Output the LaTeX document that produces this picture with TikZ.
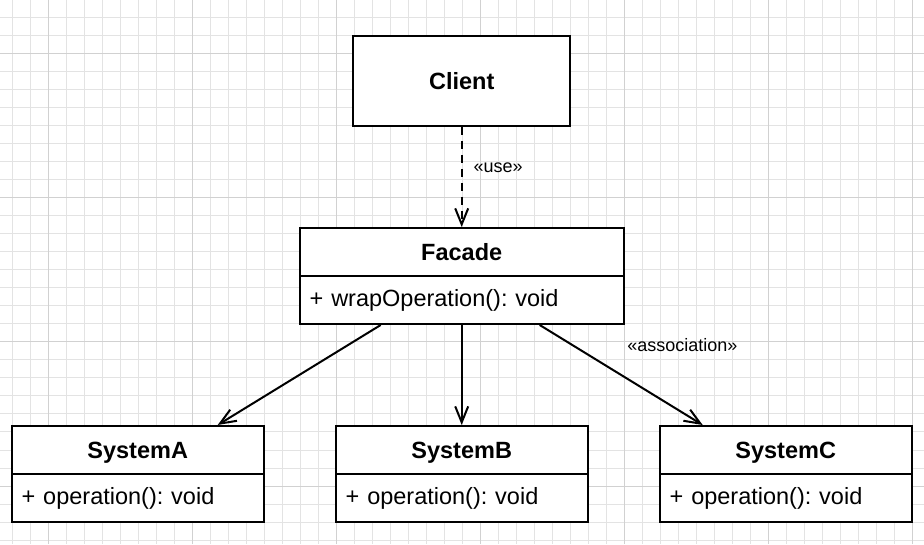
\documentclass[tikz,border=0pt]{standalone}
\usepackage{fontspec}
\setmainfont{Liberation Sans}
\usetikzlibrary{arrows.meta,positioning}
\frenchspacing

\begin{document}
\begin{tikzpicture}[
    x=1pt, y=1pt,
    node distance=100pt and 70pt,
    cls/.style={draw, line width=2pt, fill=white, minimum height=48pt, minimum width=252pt,
                inner sep=0pt, text depth=0pt, font=\fontsize{23.5}{28}\selectfont\bfseries},
    ops/.style={draw, line width=2pt, fill=white, minimum height=48pt, text width=232pt,
                inner xsep=10pt, inner ysep=0pt, align=left, font=\fontsize{23.5}{28}\selectfont},
    arr/.style={-{Straight Barb[length=16pt, width=13pt]}, line width=2pt},
    usearr/.style={arr, dash pattern=on 8pt off 6pt},
    lbl/.style={font=\fontsize{18}{22}\selectfont, inner sep=0pt},
    minor/.style={draw=black!11, line width=1pt},
    major/.style={draw=black!18, line width=1pt},
  ]
  \useasboundingbox (0,0) rectangle (924,544);

  % ===== background grid =====
  \foreach \k in {0,...,30} \draw[minor] (0,{544-18*\k}) -- (924,{544-18*\k});
  \foreach \k in {0,...,50} \draw[minor] ({12.67+18*\k},0) -- ({12.67+18*\k},544);
  \foreach \k in {0,...,3}  \draw[major] (0,{490-144*\k}) -- (924,{490-144*\k});
  \foreach \k in {0,...,6}  \draw[major] ({48.67+144*\k},0) -- ({48.67+144*\k},544);

  % ===== classes =====
  \node[cls, minimum width=216.7pt, minimum height=90pt] (client) at (461.7,463) {Client};
  \node[cls, minimum width=324pt, below=of client] (facade) {Facade};
  \node[ops, text width=304pt, below=-2pt of facade] (facadeops) {+ wrapOperation(): void};

  \node[cls, below=of facadeops] (sysB) {SystemB};
  \node[ops, below=-2pt of sysB] (sysBops) {+ operation(): void};
  \node[cls, left=of sysB] (sysA) {SystemA};
  \node[ops, below=-2pt of sysA] (sysAops) {+ operation(): void};
  \node[cls, right=of sysB] (sysC) {SystemC};
  \node[ops, below=-2pt of sysC] (sysCops) {+ operation(): void};

  % ===== relations =====
  \draw[usearr] (client) -- node[lbl, right, pos=0.41, xshift=11pt] {«use»} (facade);

  \draw[arr] ([xshift=-81pt]facadeops.south) -- ([xshift=80pt]sysA.north);
  \draw[arr] (facadeops) -- (sysB);
  \draw[arr] ([xshift=78pt]facadeops.south) --
      node[lbl, pos=0.2, anchor=west, xshift=54pt] {«association»} ([xshift=-83pt]sysC.north);

\end{tikzpicture}
\end{document}
